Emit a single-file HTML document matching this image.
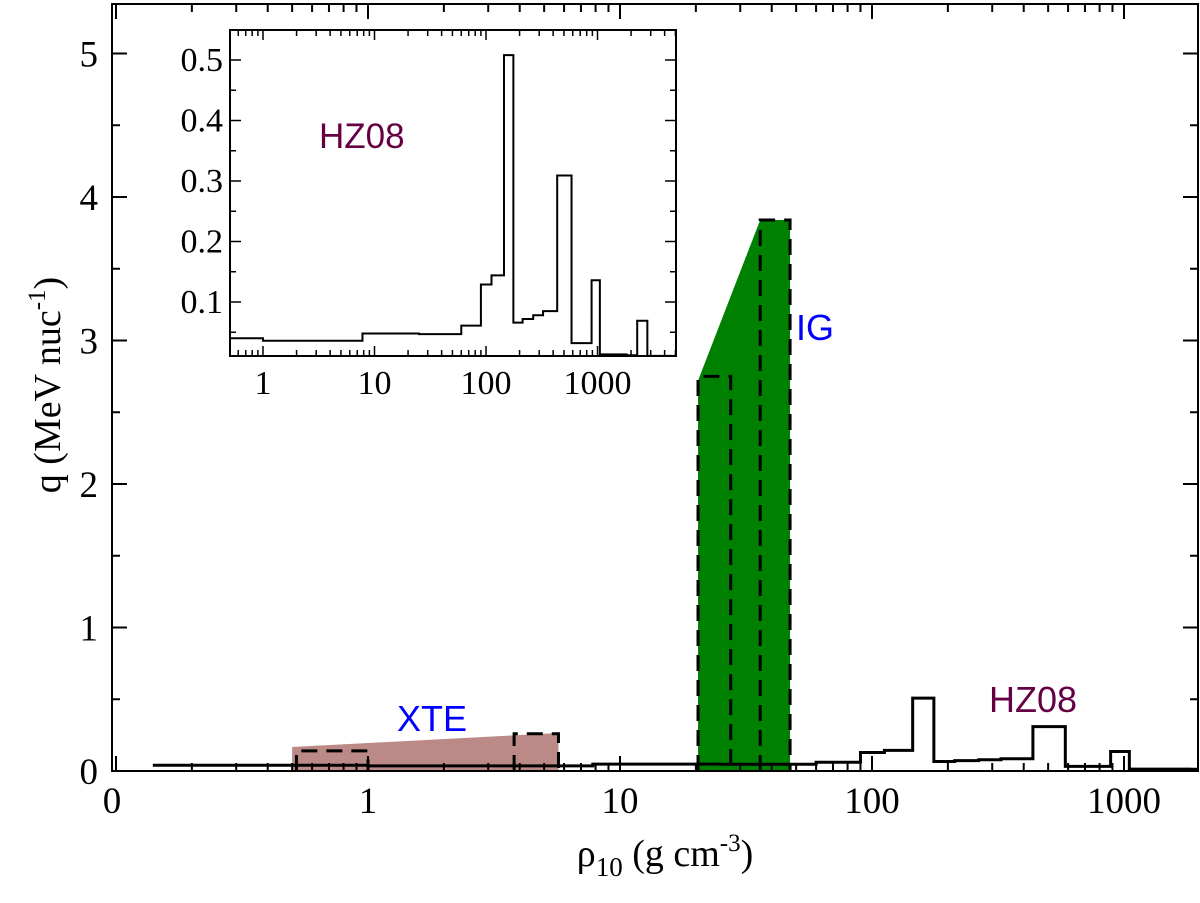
<!DOCTYPE html>
<html><head><meta charset="utf-8"><style>
body{margin:0;background:#fff;}
svg text{font-family:"Liberation Serif",serif;}
.s{font-family:"Liberation Sans",sans-serif !important;}
</style></head><body>
<svg id="c" width="1200" height="898" xmlns="http://www.w3.org/2000/svg"></svg>
<script>
// step data (HZ08): bin edges (rho10) and heating values q
const edges=[0.14,1.0,7.8,25,60,90,112,145,176,213,265,325,435,585,885,1050,1820,2270,2800,5100];
const qvals=[0.040,0.036,0.048,0.047,0.061,0.129,0.144,0.508,0.066,0.072,0.078,0.085,0.309,0.032,0.136,0.0135,0.012,0.069,0.011];
// XTE band
const xteX=[0.50,5.7];const xteTop=[0.167,0.265];
const xteBoxes=[[0.52,1.0,0.14],[3.8,5.7,0.26]];
// IG band
const igX=[20.4,36,47.3];const igTop=[2.72,3.84,3.84];
const igBoxes=[[20.4,27.5,2.75],[36,47.3,3.84]];
const NS="http://www.w3.org/2000/svg";
const svg=document.getElementById('c');
function el(t,a,p){const e=document.createElementNS(NS,t);for(const k in a)e.setAttribute(k,a[k]);(p||svg).appendChild(e);return e;}
const mx=v=>368+252*Math.log10(v), my=v=>771-143.5*v;
const L=112,R=1198,T=4,B=771;
const ix=v=>263+111.5*Math.log10(v), iy=v=>362.5-605*v;
const iL=230,iR=676,iT=30,iB=356;

const xp=el('polygon',{points:`${mx(xteX[0])},${B} ${mx(xteX[0])},${my(xteTop[0])} ${mx(xteX[1])},${my(xteTop[1])} ${mx(xteX[1])},${B}`,fill:'#bc8a86'});

const gp=el('polygon',{points:`${mx(igX[0])},${B} ${mx(igX[0])},${my(igTop[0])} ${mx(igX[1])},${my(igTop[1])} ${mx(igX[2])},${my(igTop[2])} ${mx(igX[2])},${B}`,fill:'#008000'});

function boxes(arr,name){arr.forEach(b=>{const p=el('path',{d:`M${mx(b[0])},${B} V${my(b[2])} H${mx(b[1])} V${B}`,fill:'none',stroke:'#000','stroke-width':3,'stroke-dasharray':'16,9'});
});}
boxes(xteBoxes,'xte-step');boxes(igBoxes,'ig-step');

function stepPath(fx,fy,clipR){let d='';for(let i=0;i<qvals.length;i++){let x0=fx(edges[i]),x1=Math.min(fx(edges[i+1]),clipR);if(x0>=clipR)break;const y=fy(qvals[i]);d+=(i==0?`M${x0},${y}`:`V${y}`)+`H${x1}`;}return d;}
const mp=el('path',{d:stepPath(mx,my,R),fill:'none',stroke:'#000','stroke-width':3});


const mf=el('rect',{x:L,y:T,width:R-L,height:B-T,fill:'none',stroke:'#000','stroke-width':2});

for(let e=-1;e<=3;e++)for(let m=1;m<10;m++){const v=m*Math.pow(10,e);const x=mx(v);if(x<L||x>R)continue;const len=m==1?15:8;
el('line',{x1:x,x2:x,y1:B,y2:B-len,stroke:'#000','stroke-width':2});el('line',{x1:x,x2:x,y1:T,y2:T+len,stroke:'#000','stroke-width':2});}
const xl=['0','1','10','100','1000'];const xv=[0.1,1,10,100,1000];
xv.forEach((v,i)=>{const t=el('text',{x:i==0?112:mx(v),y:813,'font-size':37,'text-anchor':'middle'});t.textContent=xl[i];});
for(let v=0;v<=5;v+=0.5){const y=my(v);const len=v%1==0?15:8;
el('line',{x1:L,x2:L+len,y1:y,y2:y,stroke:'#000','stroke-width':2});el('line',{x1:R-len,x2:R,y1:y,y2:y,stroke:'#000','stroke-width':2});
if(v%1==0){const t=el('text',{x:98,y:y+13,'font-size':37,'text-anchor':'end'});t.textContent=v;}}
const xt=el('text',{x:665,y:866,'font-size':38,'text-anchor':'middle'});xt.innerHTML='ρ<tspan font-size="27" dy="10">10</tspan><tspan dy="-10"> (g cm</tspan><tspan font-size="25" dy="-15">-3</tspan><tspan dy="15">)</tspan>';

const yt=el('text',{x:0,y:0,'font-size':38,'text-anchor':'middle',transform:'translate(60,385) rotate(-90)'});yt.innerHTML='q (MeV nuc<tspan font-size="25" dy="-15">-1</tspan><tspan dy="15">)</tspan>';

function lab(x,y,txt,col,n){const t=el('text',{x:x,y:y,'font-size':36,fill:col,class:'s'});t.textContent=txt;}
lab(397,731,'XTE','#0000ff','xte-label');lab(796,340,'IG','#0000ff','ig-label');lab(989,712,'HZ08','#660044','hz08-label');

const ib=el('rect',{x:iL,y:iT,width:iR-iL,height:iB-iT,fill:'#fff',stroke:'#000','stroke-width':2});

const ip=el('path',{d:stepPath(v=>Math.max(ix(v),iL),iy,iR),fill:'none',stroke:'#000','stroke-width':2});

for(let e=-1;e<=3;e++)for(let m=1;m<10;m++){const v=m*Math.pow(10,e);const x=ix(v);if(x<iL||x>iR)continue;const len=m==1?10:6;
el('line',{x1:x,x2:x,y1:iB,y2:iB-len,stroke:'#000','stroke-width':1.5});el('line',{x1:x,x2:x,y1:iT,y2:iT+len,stroke:'#000','stroke-width':1.5});}
[1,10,100,1000].forEach(v=>{const t=el('text',{x:ix(v),y:394,'font-size':34,'text-anchor':'middle'});t.textContent=v;});
for(let k=1;k<=10;k++){const v=k*0.05;const y=iy(v);const len=k%2==0?11:6;
el('line',{x1:iL,x2:iL+len,y1:y,y2:y,stroke:'#000','stroke-width':1.5});el('line',{x1:iR-len,x2:iR,y1:y,y2:y,stroke:'#000','stroke-width':1.5});
if(k%2==0){const t=el('text',{x:223,y:y+11,'font-size':34,'text-anchor':'end'});t.textContent=v.toFixed(1);}}
const il=el('text',{x:319,y:148,'font-size':35,fill:'#660044',class:'s'});il.textContent='HZ08';
</script>
</body></html>
